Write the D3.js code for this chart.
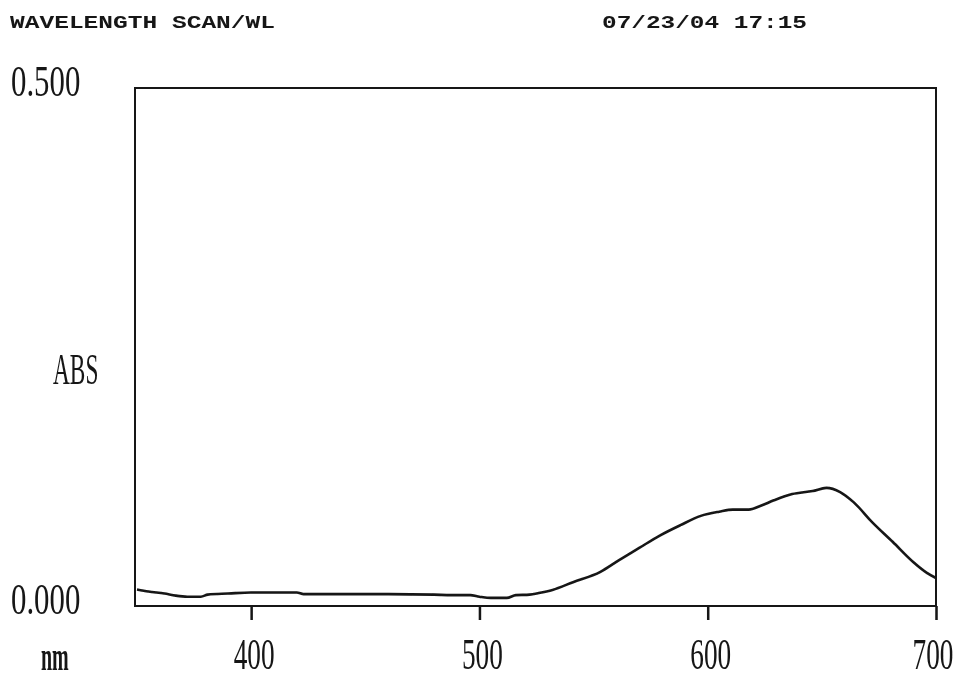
<!DOCTYPE html>
<html>
<head>
<meta charset="utf-8">
<script src="https://cdn.jsdelivr.net/npm/d3@7"></script>
<style>
  html, body { margin: 0; padding: 0; background: #fff; }
  svg { display: block; }
</style>
</head>
<body>
<script>
// Absorbance scan, 350–700 nm
const wavelength = [350, 355, 362, 367, 372, 378, 381, 390, 400, 410, 420, 423, 440, 460, 480, 488,
  496, 500, 505, 512, 516, 522, 526, 532, 541, 553, 561, 570, 579, 588, 597, 605, 611, 618, 623,
  629, 637, 646, 652, 658, 664, 672, 681, 690, 696, 700];
const absorbance = [0.016, 0.014, 0.012, 0.010, 0.009, 0.009, 0.011, 0.012, 0.013, 0.013, 0.013, 0.0115,
  0.0115, 0.0115, 0.011, 0.0105, 0.0105, 0.009, 0.0078, 0.0078, 0.0105, 0.011, 0.0125, 0.0155,
  0.023, 0.033, 0.044, 0.056, 0.068, 0.078, 0.087, 0.091, 0.093, 0.093, 0.0965, 0.102, 0.108,
  0.111, 0.114, 0.110, 0.100, 0.081, 0.062, 0.0425, 0.032, 0.027];
const xTicks = [400, 500, 600, 700];
const yTickLabels = ["0.000", "0.500"];
const header = "WAVELENGTH SCAN/WL";
const stamp = "07/23/04 17:15";

const W = 963, H = 679;
const svg = d3.select("body").append("svg").attr("width", W).attr("height", H);

// soft print look
const defs = svg.append("defs");
defs.append("filter").attr("id", "soft")
  .append("feGaussianBlur").attr("stdDeviation", 0.45);
const root = svg.append("g").attr("filter", "url(#soft)");

const x = d3.scaleLinear().domain([350, 700]).range([137, 936]);
const y = d3.scaleLinear().domain([0, 0.5]).range([606, 88]);

const ink = "#161616";
const printFont = "'Liberation Mono', 'DejaVu Sans Mono', monospace";
const labelFont = "'Liberation Serif', 'DejaVu Serif', serif";

// condensed printer-style label: horizontally squeezed serif text
function narrowText(parent, tx, ty, str, opts = {}) {
  return parent.append("text")
    .attr("transform", `translate(${tx},${ty}) scale(${opts.sx || 0.62},1)`)
    .attr("text-anchor", opts.anchor || "start")
    .attr("font-family", labelFont)
    .attr("font-weight", opts.weight || "normal")
    .attr("font-size", opts.size || 44)
    .attr("fill", ink).text(str);
}

// header line
root.append("text").attr("x", 10).attr("y", 28)
  .attr("font-family", printFont).attr("font-weight", "bold").attr("font-size", 18)
  .attr("textLength", 265).attr("lengthAdjust", "spacingAndGlyphs")
  .attr("fill", ink).text(header);
root.append("text").attr("x", 602).attr("y", 28)
  .attr("font-family", printFont).attr("font-weight", "bold").attr("font-size", 18)
  .attr("textLength", 205).attr("lengthAdjust", "spacingAndGlyphs")
  .attr("fill", ink).text(stamp);

// plot frame
root.append("rect")
  .attr("x", 135).attr("y", y(0.5))
  .attr("width", x(700) - 135).attr("height", y(0) - y(0.5))
  .attr("fill", "none").attr("stroke", ink).attr("stroke-width", 2);

// x axis ticks below the frame
const xAxis = d3.axisBottom(x).tickValues(xTicks).tickSize(14).tickFormat("");
const gx = root.append("g").attr("transform", `translate(0,${y(0)})`).call(xAxis);
gx.select(".domain").remove();
gx.selectAll(".tick line").attr("stroke", ink).attr("stroke-width", 2.5);

// x tick labels
xTicks.forEach(d => narrowText(root, Math.min(x(d) + 3, W - 30), 669, d, { anchor: "middle" }));

// y tick labels
yTickLabels.forEach(d => narrowText(root, 11, y(+d) + 8, d, { sx: 0.7 }));

// axis names
narrowText(root, 53, 384, "ABS", { sx: 0.53 });
narrowText(root, 41, 670, "nm", { sx: 0.5, size: 40, weight: "bold" });

// spectrum trace
const pts = wavelength.map((w, i) => [w, absorbance[i]]);
const line = d3.line().x(d => x(d[0])).y(d => y(d[1])).curve(d3.curveMonotoneX);
root.append("path").datum(pts)
  .attr("d", line)
  .attr("fill", "none").attr("stroke", ink).attr("stroke-width", 2.6)
  .attr("stroke-linejoin", "round");
</script>
</body>
</html>
